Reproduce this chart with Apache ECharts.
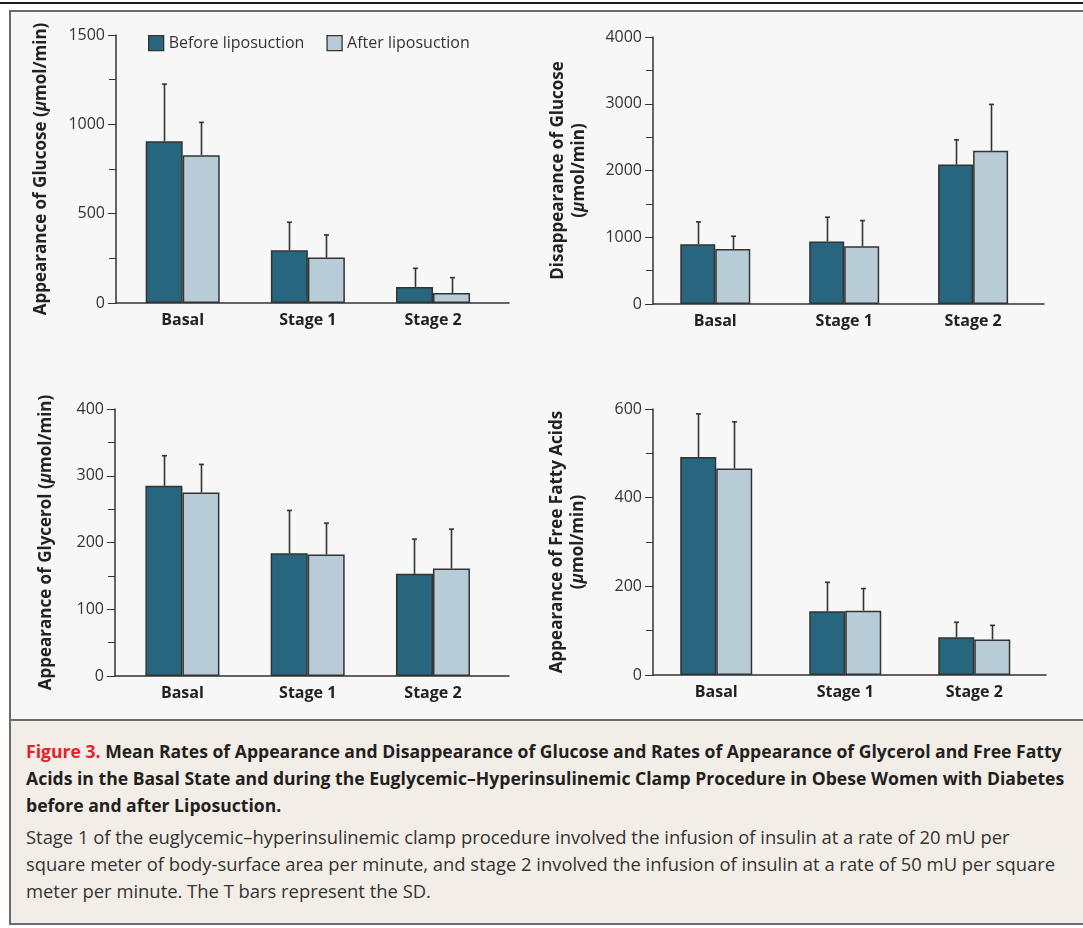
<!DOCTYPE html>
<html>
<head>
<meta charset="utf-8">
<script src="https://cdn.jsdelivr.net/npm/echarts@6/dist/echarts.min.js"></script>
<style>
  body { margin: 0; width: 1083px; height: 928px; overflow: hidden; background: #fff; font-family: "Open Sans", Lato, sans-serif; }
  #topline { position: absolute; left: 0; top: 2px; width: 1083px; height: 2px; background: #1a1a1a; }
  #box { position: absolute; left: 9px; top: 10px; width: 1100px; height: 910px; border: 2px solid #6b6b6b; border-bottom-width: 3px; background: #f7f7f7; }
  #sep { position: absolute; left: 11px; top: 719px; width: 1080px; height: 2px; background: #6b6b6b; }
  #caption { position: absolute; left: 11px; top: 721px; width: 1080px; height: 202px; background: #f2ede7; }
  #caption .t { position: absolute; left: 15px; white-space: nowrap; line-height: 27px; }
  #caption .b { font-weight: bold; color: #231f20; font-size: 17.6px; }
  #caption .r { color: #333; font-size: 18.4px; }
  #caption .fig { color: #e3222b; }
  #main { position: absolute; left: 0; top: 0; width: 1083px; height: 718px; }
</style>
</head>
<body>
<div id="topline"></div>
<div id="box"></div>
<div id="sep"></div>
<div id="caption">
  <div class="t b" style="top:17px"><span class="fig">Figure 3.</span> Mean Rates of Appearance and Disappearance of Glucose and Rates of Appearance of Glycerol and Free Fatty</div>
  <div class="t b" style="top:44px">Acids in the Basal State and during the Euglycemic–Hyperinsulinemic Clamp Procedure in Obese Women with Diabetes</div>
  <div class="t b" style="top:71px">before and after Liposuction.</div>
  <div class="t r" style="top:102px">Stage 1 of the euglycemic–hyperinsulinemic clamp procedure involved the infusion of insulin at a rate of 20 mU per</div>
  <div class="t r" style="top:129px">square meter of body-surface area per minute, and stage 2 involved the infusion of insulin at a rate of 50 mU per square</div>
  <div class="t r" style="top:156px">meter per minute. The T bars represent the SD.</div>
</div>
<div id="main"></div>
<script>
// categories
var categories = ['Basal', 'Stage 1', 'Stage 2'];
var seriesNames = ['Before liposuction', 'After liposuction'];

// appearance of glucose (umol/min): mean, SD
var glucoseRaBefore = [905, 295, 90];
var glucoseRaBeforeSD = [320, 157, 104];
var glucoseRaAfter = [827, 254, 56];
var glucoseRaAfterSD = [184, 127, 86];

// disappearance of glucose
var glucoseRdBefore = [895, 936, 2090];
var glucoseRdBeforeSD = [335, 364, 370];
var glucoseRdAfter = [825, 865, 2295];
var glucoseRdAfterSD = [190, 385, 695];

// appearance of glycerol
var glycerolBefore = [285, 184, 153];
var glycerolBeforeSD = [45, 64, 52];
var glycerolAfter = [275, 182, 161];
var glycerolAfterSD = [42, 47, 59];

// appearance of free fatty acids
var ffaBefore = [492, 144, 85];
var ffaBeforeSD = [97, 65, 34];
var ffaAfter = [466, 145, 80];
var ffaAfterSD = [105, 50, 32];

// y axis ticks
var yMax = [1500, 4000, 400, 600];
var yStep = [500, 1000, 100, 200];

var yNames = [
    'Appearance of Glucose ({mu|μ}mol/min)',
    'Disappearance of Glucose\n({mu|μ}mol/min)',
    'Appearance of Glycerol ({mu|μ}mol/min)',
    'Appearance of Free Fatty Acids\n({mu|μ}mol/min)'
];

var panelData = [
    [glucoseRaBefore, glucoseRaBeforeSD, glucoseRaAfter, glucoseRaAfterSD],
    [glucoseRdBefore, glucoseRdBeforeSD, glucoseRdAfter, glucoseRdAfterSD],
    [glycerolBefore, glycerolBeforeSD, glycerolAfter, glycerolAfterSD],
    [ffaBefore, ffaBeforeSD, ffaAfter, ffaAfterSD]
];

// layout of the four panels
var layout = [
    { left: 116, top: 35, width: 393, height: 268, xMin: -0.533, xMax: 2.607, barW: 37, nameGap: 64 },
    { left: 653, top: 37, width: 391, height: 267, xMin: -0.483, xMax: 2.55, barW: 35, nameGap: 63 },
    { left: 115, top: 409, width: 394, height: 267, xMin: -0.538, xMax: 2.607, barW: 37, nameGap: 58 },
    { left: 653, top: 409, width: 393, height: 266, xMin: -0.49, xMax: 2.556, barW: 36, nameGap: 64 }
];

var font = '"Open Sans", Lato, sans-serif';
var ink = '#333';
var darkBar = '#27667e';
var lightBar = '#b8ccd8';

var myChart = echarts.init(document.getElementById('main'));

function pairs(arr) {
    return arr.map(function (v, i) { return [i, v]; });
}
function errPairs(mean, sd) {
    return mean.map(function (v, i) { return [i, v, v + sd[i]]; });
}
// T bar: only the upper whisker with a small cap
function errorRender(shift) {
    return function (params, api) {
        var base = api.coord([api.value(0), api.value(1)]);
        var top = api.coord([api.value(0), api.value(2)]);
        var cx = Math.round(top[0] + shift) + 0.5;
        var st = { stroke: ink, lineWidth: 1.6 };
        return {
            type: 'group',
            children: [
                { type: 'line', shape: { x1: cx, y1: base[1], x2: cx, y2: top[1] }, style: st },
                { type: 'line', shape: { x1: cx - 2.5, y1: top[1], x2: cx + 2.5, y2: top[1] }, style: st }
            ]
        };
    };
}

var grids = [], xAxes = [], yAxes = [], series = [];
layout.forEach(function (g, k) {
    grids.push({ left: g.left, top: g.top, width: g.width, height: g.height, containLabel: false, outerBoundsMode: 'none' });
    xAxes.push({
        type: 'value', gridIndex: k, min: g.xMin, max: g.xMax,
        axisLine: { show: true, onZero: false, lineStyle: { color: ink, width: 1.5 } },
        axisTick: { show: false },
        splitLine: { show: false },
        axisLabel: {
            customValues: [0, 1, 2],
            formatter: function (v) { return categories[Math.round(v)]; },
            color: '#222', fontFamily: font, fontSize: 16, fontWeight: 'bold', margin: 9
        }
    });
    yAxes.push({
        type: 'value', gridIndex: k, min: 0, max: yMax[k], interval: yStep[k],
        name: yNames[k], nameLocation: 'middle', nameGap: g.nameGap,
        nameTextStyle: {
            color: '#222', fontFamily: font, fontSize: 17, fontWeight: 'bold', lineHeight: 21,
            rich: { mu: { fontStyle: 'italic', fontWeight: 'bold', fontSize: 17, fontFamily: font, color: '#222' } }
        },
        axisLine: { show: true, onZero: false, lineStyle: { color: ink, width: 1.5 } },
        axisTick: { show: true, inside: false, length: 8, lineStyle: { color: ink, width: 1 } },
        minorTick: { show: true, splitNumber: 2, length: 7, lineStyle: { color: ink, width: 1 } },
        splitLine: { show: false },
        minorSplitLine: { show: false },
        axisLabel: {
            color: '#333', fontFamily: font, fontSize: 16, margin: 11,
            formatter: function (v) { return String(v); }
        }
    });
    var d = panelData[k];
    [0, 1].forEach(function (s) {
        series.push({
            type: 'bar', name: seriesNames[s], xAxisIndex: k, yAxisIndex: k,
            barWidth: g.barW, barGap: '0%',
            itemStyle: { color: s === 0 ? darkBar : lightBar, borderColor: ink, borderWidth: 1.5 },
            emphasis: { disabled: true },
            data: pairs(d[s * 2]),
            z: 2
        });
    });
    [0, 1].forEach(function (s) {
        series.push({
            type: 'custom', xAxisIndex: k, yAxisIndex: k,
            renderItem: errorRender(s === 0 ? -g.barW / 2 : g.barW / 2),
            data: errPairs(d[s * 2], d[s * 2 + 1]),
            z: 1
        });
    });
});

var option = {
    animation: false,
    legend: {
        data: seriesNames, left: 148, top: 35, padding: 0, itemWidth: 15, itemHeight: 15, itemGap: 22,
        icon: 'rect',
        itemStyle: { borderColor: ink, borderWidth: 1.3 },
        textStyle: { color: '#333', fontFamily: font, fontSize: 16 }
    },
    grid: grids,
    xAxis: xAxes,
    yAxis: yAxes,
    series: series
};

myChart.setOption(option);
window.addEventListener('resize', function () {
    myChart.resize();
});
</script>
</body>
</html>
